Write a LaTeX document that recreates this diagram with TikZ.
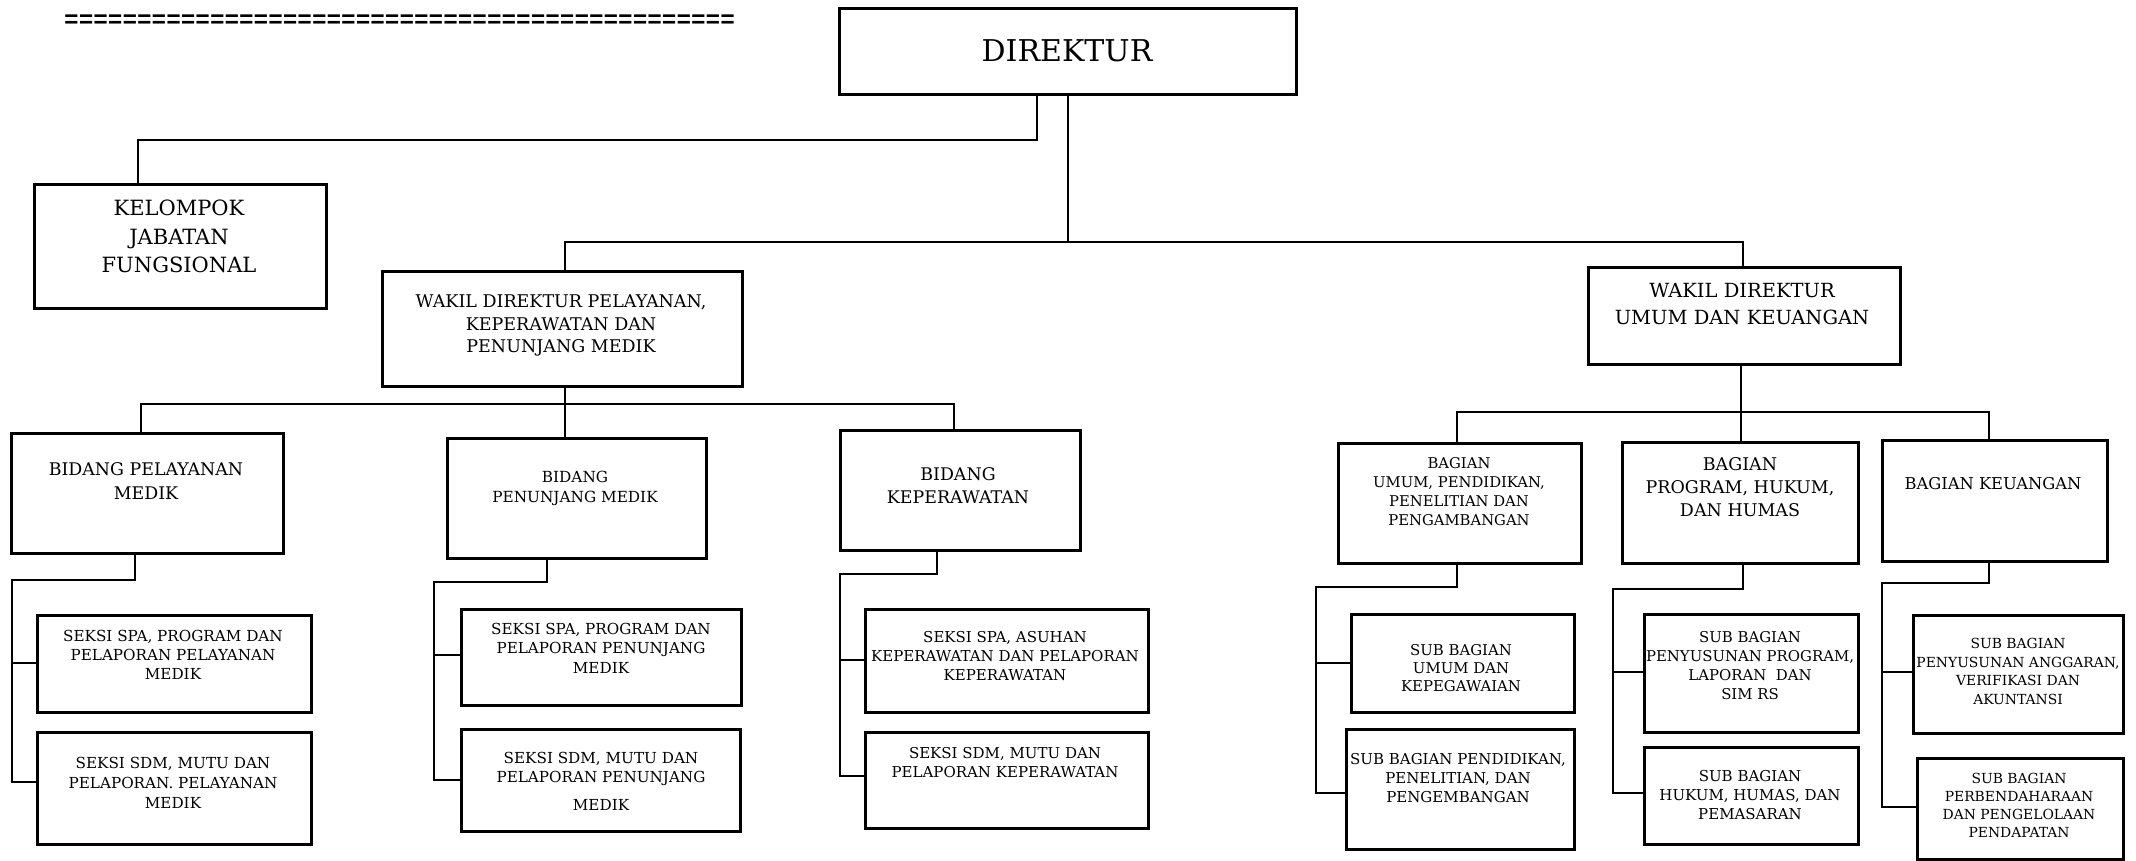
\documentclass[tikz,border=0pt]{standalone}
\usepackage{fontspec}
\setmainfont{DejaVu Serif}
\newfontfamily\eqfont{Liberation Mono}
\newcommand\ob[5]{\node[obox, minimum width={(#4-#2)*1pt}, minimum height={(#5-#3)*1pt}] (#1) at (#2,#3) {};}
\newcommand\tx[6]{\node[lbl, font=\fontsize{#4}{#5}\selectfont] (#1) at (#2,#3) {#6};}
\begin{document}
\begin{tikzpicture}[x=1pt,y=-1pt,
  obox/.style={draw, line width=2.6pt, inner sep=0pt, anchor=north west},
  conn/.style={draw, line width=1.9pt},
  lbl/.style={anchor=north, align=center, inner sep=0pt}]
\useasboundingbox (0,0) rectangle (2136,861);

\node[anchor=base west, inner sep=0pt, font=\eqfont\fontsize{24.3}{24}\bfseries\selectfont] (eq) at (64,28) {==============================================};

% boxes
\ob{dir}{838}{7}{1295}{93}
\ob{kel}{33}{183}{325}{307}
\ob{w1}{381}{270}{741}{385}
\ob{w2}{1587}{266}{1899}{363}
\ob{b1}{10}{432}{282}{552}
\ob{b2}{446}{437}{705}{557}
\ob{b3}{839}{429}{1079}{549}
\ob{s11}{36}{614}{310}{711}
\ob{s12}{36}{731}{310}{843}
\ob{s21}{460}{608}{740}{704}
\ob{s22}{460}{728}{739}{830}
\ob{s31}{864}{608}{1147}{711}
\ob{s32}{864}{731}{1147}{827}
\ob{c1}{1337}{442}{1580}{562}
\ob{c2}{1621}{441}{1857}{562}
\ob{c3}{1881}{439}{2106}{560}
\ob{d11}{1350}{613}{1573}{711}
\ob{d12}{1345}{728}{1573}{848}
\ob{d21}{1643}{613}{1857}{731}
\ob{d22}{1643}{746}{1857}{843}
\ob{d31}{1912}{614}{2122}{732}
\ob{d32}{1916}{757}{2122}{858}

% texts
\tx{dirt}{1067}{39}{30}{36}{DIREKTUR}
\tx{kelt}{179}{200}{21}{28.5}{KELOMPOK\\JABATAN\\FUNGSIONAL}
\tx{w1t}{561}{295}{17.5}{22.5}{WAKIL DIREKTUR PELAYANAN,\\KEPERAWATAN DAN\\PENUNJANG MEDIK}
\tx{w2t}{1742}{283}{19.5}{27}{WAKIL DIREKTUR\\UMUM DAN KEUANGAN}
\tx{b1t}{146}{462}{17.4}{24}{BIDANG PELAYANAN\\MEDIK}
\tx{b2t}{575}{471}{15.3}{20}{BIDANG\\PENUNJANG MEDIK}
\tx{b3t}{958}{467}{17.4}{23}{BIDANG\\KEPERAWATAN}
\tx{s11t}{173}{630}{15.2}{19}{SEKSI SPA, PROGRAM DAN\\PELAPORAN PELAYANAN\\MEDIK}
\tx{s12t}{173}{757}{15.2}{20}{SEKSI SDM, MUTU DAN\\PELAPORAN. PELAYANAN\\MEDIK}
\tx{s21t}{601}{623}{15.2}{19.5}{SEKSI SPA, PROGRAM DAN\\PELAPORAN PENUNJANG\\MEDIK}
\tx{s22t}{601}{752}{15.2}{19.5}{SEKSI SDM, MUTU DAN\\PELAPORAN PENUNJANG\\[8.5pt]MEDIK}
\tx{s31t}{1005}{631}{15}{19}{SEKSI SPA, ASUHAN\\KEPERAWATAN DAN PELAPORAN\\KEPERAWATAN}
\tx{s32t}{1005}{747}{15}{19}{SEKSI SDM, MUTU DAN\\PELAPORAN KEPERAWATAN}
\tx{c1t}{1459}{457}{14.8}{19}{BAGIAN\\UMUM, PENDIDIKAN,\\PENELITIAN DAN\\PENGAMBANGAN}
\tx{c2t}{1740}{457}{17.5}{23}{BAGIAN\\PROGRAM, HUKUM,\\DAN HUMAS}
\tx{c3t}{1993}{477}{16.3}{20}{BAGIAN KEUANGAN}
\tx{d11t}{1461}{644}{14.9}{18}{SUB BAGIAN\\UMUM DAN\\KEPEGAWAIAN}
\tx{d12t}{1458}{753}{15}{19}{SUB BAGIAN PENDIDIKAN,\\PENELITIAN, DAN\\PENGEMBANGAN}
\tx{d21t}{1750}{631}{14.9}{19}{SUB BAGIAN\\PENYUSUNAN PROGRAM,\\LAPORAN\ \ DAN\\SIM RS}
\tx{d22t}{1750}{770}{15}{19}{SUB BAGIAN\\HUKUM, HUMAS, DAN\\PEMASARAN}
\tx{d31t}{2018}{638}{13.9}{18.5}{SUB BAGIAN\\PENYUSUNAN ANGGARAN,\\VERIFIKASI DAN\\AKUNTANSI}
\tx{d32t}{2019}{773}{13.9}{18}{SUB BAGIAN\\PERBENDAHARAAN\\DAN PENGELOLAAN\\PENDAPATAN}

% connector coordinates
\coordinate (ka) at (1037,140); \coordinate (kb) at (138,140);
\coordinate (ma) at (1068,242); \coordinate (mb) at (565,242); \coordinate (mc) at (1743,242);
\coordinate (pa) at (565,404); \coordinate (pb) at (141,404); \coordinate (pc) at (954,404);
\coordinate (qa) at (135,580); \coordinate (qb) at (12,580); \coordinate (qc) at (12,663); \coordinate (qd) at (12,782);
\coordinate (ra) at (547,582); \coordinate (rb) at (434,582); \coordinate (rc) at (434,655); \coordinate (rd) at (434,780);
\coordinate (ta) at (937,574); \coordinate (tb) at (840,574); \coordinate (tc) at (840,660); \coordinate (td) at (840,776);
\coordinate (ua) at (1741,412); \coordinate (ub) at (1457,412); \coordinate (uc) at (1989,412);
\coordinate (va) at (1457,587); \coordinate (vb) at (1316,587); \coordinate (vc) at (1316,663); \coordinate (vd) at (1316,793);
\coordinate (wa) at (1743,589); \coordinate (wb) at (1613,589); \coordinate (wc) at (1613,672); \coordinate (wd) at (1613,793);
\coordinate (za) at (1989,583); \coordinate (zb) at (1882,583); \coordinate (zc) at (1882,672); \coordinate (zd) at (1882,807);

% connectors
\draw[conn] (dir.south -| ka) -- (ka) -- (kb) -- (kel.north -| kb);
\draw[conn] (dir.south -| ma) -- (ma);
\draw[conn] (w1.north -| mb) -- (mb) -- (mc) -- (w2.north -| mc);
\draw[conn] (w1.south -| pa) -- (pa);
\draw[conn] (b1.north -| pb) -- (pb) -- (pc) -- (b3.north -| pc);
\draw[conn] (pa) -- (b2.north -| pa);
\draw[conn] (b1.south -| qa) -- (qa) -- (qb) -- (qd) -- (qd -| s12.west);
\draw[conn] (qc) -- (qc -| s11.west);
\draw[conn] (b2.south -| ra) -- (ra) -- (rb) -- (rd) -- (rd -| s22.west);
\draw[conn] (rc) -- (rc -| s21.west);
\draw[conn] (b3.south -| ta) -- (ta) -- (tb) -- (td) -- (td -| s32.west);
\draw[conn] (tc) -- (tc -| s31.west);
\draw[conn] (w2.south -| ua) -- (ua);
\draw[conn] (c1.north -| ub) -- (ub) -- (uc) -- (c3.north -| uc);
\draw[conn] (ua) -- (c2.north -| ua);
\draw[conn] (c1.south -| va) -- (va) -- (vb) -- (vd) -- (vd -| d12.west);
\draw[conn] (vc) -- (vc -| d11.west);
\draw[conn] (c2.south -| wa) -- (wa) -- (wb) -- (wd) -- (wd -| d22.west);
\draw[conn] (wc) -- (wc -| d21.west);
\draw[conn] (c3.south -| za) -- (za) -- (zb) -- (zd) -- (zd -| d32.west);
\draw[conn] (zc) -- (zc -| d31.west);
\end{tikzpicture}
\end{document}
